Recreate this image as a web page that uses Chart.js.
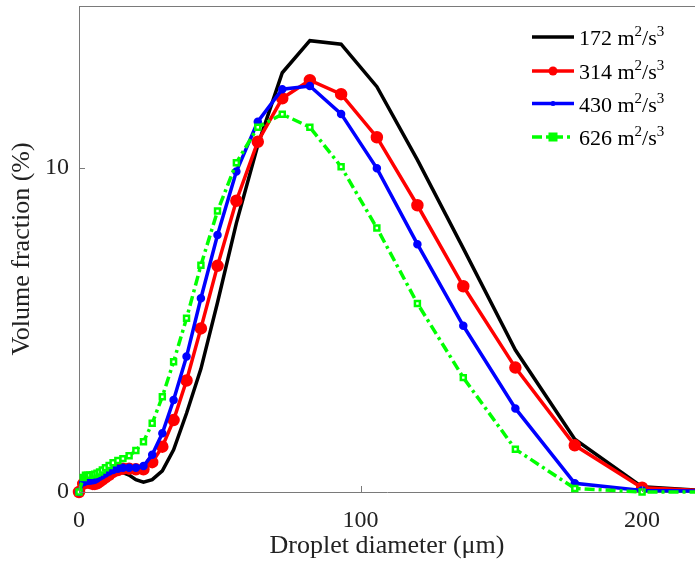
<!DOCTYPE html>
<html>
<head>
<meta charset="utf-8">
<script src="https://cdn.jsdelivr.net/npm/chart.js@4.4.1/dist/chart.umd.min.js"></script>
<style>
  html, body { margin: 0; padding: 0; background: #fff; }
  #wrap { width: 695px; height: 569px; position: relative; }
</style>
</head>
<body>
<div id="wrap"><canvas id="chart"></canvas></div>
<script>
// droplet diameter bins (um)
const diameters = [0, 1.5, 2.3, 3.0, 3.8, 4.9, 5.6, 6.4, 7.3, 8.3, 9.4, 10.7, 12.1, 13.8, 15.6, 17.8, 20.2, 22.9, 26.0, 29.6, 33.6, 38.2, 43.3, 49.2, 55.9, 63.5, 72.2, 82.0, 93.1, 105.8, 120.2, 136.5, 155.0, 176.1, 200.0, 227.2];

// dissipation rates (m2/s3)
const rates = [172, 314, 430, 626];

// volume fraction (%)
const vf172 = [0, 0.2, 0.22, 0.2, 0.18, 0.18, 0.2, 0.24, 0.3, 0.37, 0.45, 0.52, 0.6, 0.63, 0.6, 0.52, 0.38, 0.3, 0.38, 0.65, 1.3, 2.43, 3.8, 5.85, 8.3, 10.7, 12.94, 13.93, 13.82, 12.51, 10.25, 7.52, 4.38, 1.63, 0.16, 0.02];
const vf314 = [0, 0.25, 0.3, 0.3, 0.28, 0.25, 0.25, 0.27, 0.32, 0.38, 0.45, 0.53, 0.62, 0.68, 0.72, 0.72, 0.7, 0.7, 0.92, 1.4, 2.22, 3.44, 5.05, 6.98, 8.99, 10.81, 12.15, 12.71, 12.28, 10.95, 8.85, 6.35, 3.84, 1.44, 0.13, 0.02];
const vf430 = [0, 0.3, 0.33, 0.35, 0.35, 0.36, 0.38, 0.42, 0.47, 0.52, 0.57, 0.63, 0.68, 0.72, 0.75, 0.75, 0.75, 0.8, 1.15, 1.81, 2.84, 4.18, 5.98, 7.93, 9.89, 11.43, 12.43, 12.53, 11.67, 9.99, 7.65, 5.13, 2.58, 0.27, 0.05, 0.02];
const vf626 = [0, 0.45, 0.52, 0.52, 0.52, 0.53, 0.55, 0.58, 0.62, 0.68, 0.75, 0.82, 0.9, 0.97, 1.03, 1.12, 1.28, 1.55, 2.12, 2.94, 4.02, 5.36, 7.0, 8.67, 10.16, 11.26, 11.66, 11.26, 10.04, 8.15, 5.82, 3.53, 1.32, 0.11, 0.0, 0.0];

const xTicks = [0, 100, 200];
const yTicks = [0, 10];

const serif = "'Liberation Serif', 'Times New Roman', serif";
const axisGray = "#7a7a7a";

const toPts = ys => diameters.map((d, i) => ({ x: d, y: ys[i] }));
const clipBox = { left: 10, right: 0, top: 0, bottom: 10 };

const datasets = [
  {
    label: rates[0] + " m²/s³", data: toPts(vf172),
    borderColor: "#000000", backgroundColor: "#000000",
    borderWidth: 3.5, pointRadius: 0, order: 3, clip: clipBox
  },
  {
    label: rates[1] + " m²/s³", data: toPts(vf314),
    borderColor: "#ff0000", backgroundColor: "#ff0000",
    borderWidth: 3.5, pointRadius: 4.5, pointStyle: "circle", order: 2, clip: clipBox
  },
  {
    label: rates[2] + " m²/s³", data: toPts(vf430),
    borderColor: "#0000ff", backgroundColor: "#0000ff",
    borderWidth: 3.5, pointRadius: 2.5, pointStyle: "circle", order: 1, clip: clipBox
  },
  {
    label: rates[3] + " m²/s³", data: toPts(vf626),
    borderColor: "#00ff00", backgroundColor: "#ffffff",
    borderWidth: 3.5, borderDash: [10, 4, 3, 4],
    pointRadius: 3.5, pointStyle: "rect", pointBorderWidth: 2.5, order: 0, clip: clipBox
  }
];

// top border, inward tick marks and the legend
const frame = {
  id: "frame",
  afterDraw(chart) {
    const { ctx, chartArea: a, scales } = chart;
    ctx.save();
    ctx.strokeStyle = axisGray;
    ctx.lineWidth = 1;
    ctx.beginPath();
    ctx.moveTo(a.left, a.top + 0.5);
    ctx.lineTo(a.right, a.top + 0.5);
    xTicks.forEach(v => {
      const px = Math.round(scales.x.getPixelForValue(v)) + 0.5;
      ctx.moveTo(px, a.bottom);
      ctx.lineTo(px, a.bottom - 6);
    });
    yTicks.forEach(v => {
      const py = Math.round(scales.y.getPixelForValue(v)) + 0.5;
      ctx.moveTo(a.left, py);
      ctx.lineTo(a.left + 6, py);
    });
    ctx.stroke();

    // legend
    const rows = [37, 71, 103.5, 137];
    const x0 = 532, x1 = 574, tx = 579;
    datasets.forEach((ds, i) => {
      const y = rows[i];
      ctx.save();
      ctx.strokeStyle = ds.borderColor;
      ctx.lineWidth = ds.borderWidth;
      ctx.setLineDash(ds.borderDash || []);
      ctx.beginPath();
      ctx.moveTo(x0, y);
      ctx.lineTo(x1, y);
      ctx.stroke();
      ctx.setLineDash([]);
      if (ds.pointRadius > 0) {
        const cx = (x0 + x1) / 2;
        ctx.fillStyle = ds.borderColor;
        if (ds.pointStyle === "rect") {
          const r = ds.pointRadius + 1;
          ctx.fillRect(cx - r, y - r, 2 * r, 2 * r);
        } else {
          ctx.beginPath();
          ctx.arc(cx, y, ds.pointRadius, 0, Math.PI * 2);
          ctx.fill();
        }
      }
      ctx.restore();

      ctx.fillStyle = "#000";
      ctx.textBaseline = "alphabetic";
      ctx.textAlign = "left";
      const base = y + 8;
      let x = tx;
      const big = "22px " + serif, small = "15px " + serif;
      const parts = [[rates[i] + " m", big, 0], ["2", small, -9], ["/s", big, 0], ["3", small, -9]];
      parts.forEach(([t, f, dy]) => {
        ctx.font = f;
        ctx.fillText(t, x, base + dy);
        x += ctx.measureText(t).width;
      });
    });
    ctx.restore();
  }
};

new Chart(document.getElementById("chart"), {
  type: "line",
  data: { datasets },
  options: {
    responsive: true,
    maintainAspectRatio: false,
    animation: false,
    layout: { padding: { top: 6, left: 0, right: 0, bottom: 0 }, autoPadding: false },
    plugins: { legend: { display: false }, tooltip: { enabled: false } },
    elements: { line: { tension: 0 } },
    scales: {
      x: {
        type: "linear",
        min: 0,
        max: 218.8,
        afterFit: s => { s.height = 77; s.paddingLeft = 0; s.paddingRight = 0; },
        afterBuildTicks: s => { s.ticks = xTicks.map(v => ({ value: v })); },
        grid: { display: false, drawTicks: false },
        border: { display: true, color: axisGray, width: 1 },
        ticks: { font: { family: serif, size: 24 }, color: "#222", padding: 14, maxRotation: 0 },
        title: {
          display: true, text: "Droplet diameter (μm)",
          font: { family: serif, size: 26 }, color: "#222",
          padding: { top: 0, bottom: 7 }
        }
      },
      y: {
        min: 0,
        max: 15,
        afterFit: s => { s.width = 79; s.paddingTop = 0; s.paddingBottom = 0; },
        afterBuildTicks: s => { s.ticks = yTicks.map(v => ({ value: v })); },
        grid: { display: false, drawTicks: false },
        border: { display: true, color: axisGray, width: 1 },
        ticks: { font: { family: serif, size: 24 }, color: "#222", padding: 10 },
        title: {
          display: true, text: "Volume fraction (%)",
          font: { family: serif, size: 26 }, color: "#222",
          padding: { top: 7, bottom: 0 }
        }
      }
    }
  },
  plugins: [frame]
});
</script>
</body>
</html>
